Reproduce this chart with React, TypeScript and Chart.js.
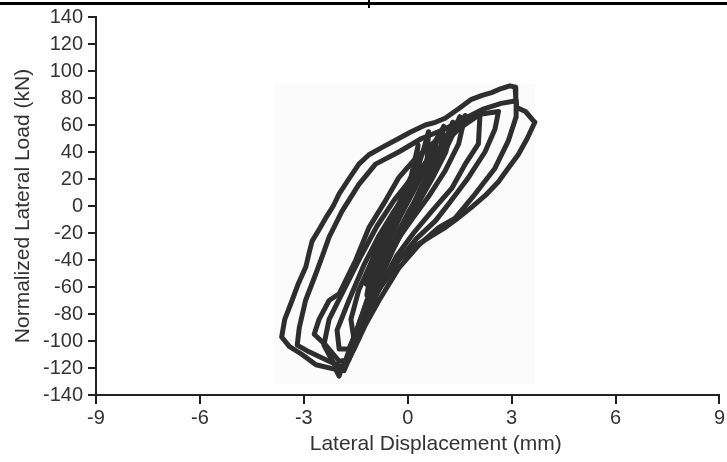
import React, { useEffect, useRef } from 'react';
import { Chart, registerables } from 'chart.js';

Chart.register(...registerables);

// Axis settings
const xRange = [-9, 9];
const xStep = 3;
const yRange = [-140, 140];
const yStep = 20;

const xTitle = 'Lateral Displacement (mm)';
const yTitle = 'Normalized Lateral Load (kN)';

// Hysteresis cycles [displacement mm, load kN]
const loopA: number[][] = [
  [3.67, 62], [3.45, 50], [3.19, 38], [2.9, 28], [2.62, 18], [2.25, 8], [1.84, -1], [1.45, -9],
  [1.08, -16], [0.7, -22], [0.32, -28], [0.0, -34], [-0.26, -40], [-0.45, -48], [-0.64, -55],
  [-0.95, -65], [-1.22, -75], [-1.38, -85], [-1.5, -94], [-1.65, -104], [-1.79, -114], [-1.92, -121],
  [-1.98, -126], [-2.08, -121], [-2.65, -117.6], [-3.05, -110], [-3.42, -104], [-3.64, -97],
  [-3.55, -84], [-3.34, -70], [-3.15, -57], [-2.94, -45], [-2.85, -35], [-2.76, -26], [-2.55, -17],
  [-2.37, -9], [-2.15, 0], [-1.98, 9], [-1.7, 20], [-1.41, 31], [-1.12, 38], [-0.7, 44], [-0.26, 50],
  [0.1, 55], [0.51, 60], [0.8, 62], [1.08, 65], [1.47, 72], [1.84, 79], [2.15, 82], [2.42, 84],
  [2.7, 87], [2.95, 89], [3.1, 88], [3.12, 80], [3.15, 73], [3.4, 70], [3.67, 62],
];

const loopB: number[][] = [
  [3.13, 66], [2.9, 48], [2.52, 28], [1.95, 9], [1.37, -9], [0.89, -16], [0.32, -29], [-0.26, -46],
  [-0.83, -70], [-1.22, -88], [-1.55, -106], [-1.84, -120], [-2.27, -115], [-2.85, -108],
  [-3.19, -103], [-3.13, -90], [-2.95, -70], [-2.65, -50], [-2.45, -36], [-2.27, -23], [-1.9, -4],
  [-1.41, 16], [-0.93, 31], [-0.26, 40], [0.4, 50], [1.08, 57], [1.66, 65], [2.2, 72], [2.7, 76],
  [3.13, 78], [3.13, 66],
];

const loopC: number[][] = [
  [2.62, 70], [2.52, 57], [2.23, 40], [1.75, 21], [1.18, 1.5], [0.8, -11], [0.26, -24], [-0.32, -42],
  [-0.83, -62], [-1.18, -81], [-1.47, -99], [-1.7, -114], [-1.98, -115], [-2.37, -103], [-2.7, -95],
  [-2.56, -84], [-2.27, -70], [-1.98, -65], [-1.5, -40], [-1.12, -16], [-0.64, 4], [-0.26, 21],
  [0.22, 35], [0.8, 48], [1.47, 57], [2.09, 68], [2.62, 70],
];

const loopD: number[][] = [
  [2.09, 69], [2.04, 46], [1.66, 31], [1.27, 13], [0.69, -4], [0.17, -20], [-0.32, -37], [-0.69, -55],
  [-1.06, -73], [-1.35, -92], [-1.64, -110], [-1.84, -122], [-2.13, -117], [-2.42, -103], [-2.27, -84],
  [-1.84, -62], [-1.35, -37], [-0.89, -15], [-0.4, 4], [0.03, 18], [0.55, 33], [1.12, 48], [1.66, 62],
  [2.09, 69],
];

const loopE: number[][] = [
  [1.66, 67], [1.47, 46], [1.08, 26], [0.6, 7], [0.09, -11], [-0.4, -29], [-0.83, -49], [-1.18, -70],
  [-1.47, -92], [-1.7, -106], [-1.98, -106], [-2.04, -92], [-1.7, -70], [-1.27, -44], [-0.83, -22],
  [-0.4, -4], [0.03, 12], [0.46, 27], [0.89, 40], [1.32, 55], [1.66, 67],
];

const loopF: number[][] = [
  [1.04, 59], [0.89, 33], [0.46, 15], [0.03, -4], [-0.32, -22], [-0.69, -40], [-1.06, -62],
  [-1.35, -84], [-1.55, -99], [-1.64, -84], [-1.41, -62], [-1.06, -42], [-0.69, -24], [-0.32, -7],
  [0.09, 11], [0.46, 29], [0.8, 48], [1.04, 59],
];

const loopG: number[][] = [
  [0.6, 55], [0.55, 29], [0.17, 11], [-0.2, -7], [-0.55, -26], [-0.89, -46], [-1.18, -66],
  [-1.06, -48], [-0.72, -29], [-0.37, -12], [-0.03, 5], [0.26, 26], [0.46, 42], [0.6, 55],
];

const loopH: number[][] = [
  [1.3, 62], [1.1, 40], [0.7, 20], [0.3, 2], [-0.1, -16], [-0.45, -34], [-0.8, -54], [-1.1, -74],
  [-0.95, -56], [-0.6, -36], [-0.25, -18], [0.15, 0], [0.55, 20], [0.95, 40], [1.3, 62],
];

const loopI: number[][] = [
  [0.85, 50], [0.7, 30], [0.35, 12], [0.0, -8], [-0.4, -30], [-0.2, -20], [0.15, -2], [0.5, 18],
  [0.85, 50],
];

const loopJ: number[][] = [
  [1.5, 66], [1.25, 50], [0.95, 34], [0.55, 16], [0.15, -2], [-0.2, -20], [0.1, -6], [0.45, 10],
  [0.8, 28], [1.15, 46], [1.5, 66],
];

const loopK: number[][] = [
  [0.3, 45], [0.2, 25], [-0.1, 8], [-0.5, -14], [-0.85, -36], [-1.2, -58], [-1.0, -38], [-0.65, -18],
  [-0.25, 2], [0.1, 22], [0.3, 45],
];

const loops = [loopA, loopB, loopC, loopD, loopE, loopF, loopG, loopH, loopI, loopJ, loopK];

// faint scanned-figure background box (data units)
const boxX = [-3.85, 3.68];
const boxY = [-132, 90];

const FONT = '"Liberation Sans", Arial, Helvetica, sans-serif';
const INK = '#2e2e2e';
const TEXT = '#333333';

const decorPlugin = {
  id: 'decor',
  beforeDatasetsDraw(chart: any) {
    const { ctx, scales } = chart;
    const x0 = scales.x.getPixelForValue(boxX[0]);
    const x1 = scales.x.getPixelForValue(boxX[1]);
    const y0 = scales.y.getPixelForValue(boxY[1]);
    const y1 = scales.y.getPixelForValue(boxY[0]);
    ctx.save();
    ctx.fillStyle = '#fbfbfb';
    ctx.fillRect(x0, y0, x1 - x0, y1 - y0);
    ctx.restore();
  },
  afterDraw(chart: any) {
    const { ctx, chartArea, width } = chart;
    ctx.save();
    // top rule left over from the source page
    ctx.fillStyle = '#000';
    ctx.fillRect(0, 2, width, 3);
    ctx.fillRect(368, 0, 2, 8);
    // x axis title
    ctx.fillStyle = TEXT;
    ctx.font = `21px ${FONT}`;
    ctx.textAlign = 'center';
    ctx.textBaseline = 'middle';
    const cx = chartArea.left + (chartArea.right - chartArea.left) * 0.545;
    ctx.fillText(xTitle, cx, 444);
    ctx.restore();
  },
};

export default function App() {
  const ref = useRef<HTMLCanvasElement | null>(null);

  useEffect(() => {
    if (!ref.current) return;
    const chart = new Chart(ref.current, {
      type: 'scatter',
      data: {
        datasets: loops.map((lp, i) => ({
          label: `cycle ${i + 1}`,
          data: lp.map(([x, y]) => ({ x, y })),
          showLine: true,
          borderColor: INK,
          backgroundColor: INK,
          borderWidth: 5,
          pointRadius: 0,
          tension: 0,
          borderJoinStyle: 'round' as const,
          borderCapStyle: 'round' as const,
        })),
      },
      options: {
        responsive: false,
        animation: false,
        layout: { padding: { left: 0, top: 14, right: 5, bottom: 0 } },
        plugins: {
          legend: { display: false },
          tooltip: { enabled: false },
        },
        scales: {
          x: {
            type: 'linear',
            min: xRange[0],
            max: xRange[1],
            ticks: { stepSize: xStep, color: TEXT, font: { family: FONT, size: 20 }, padding: 2 },
            grid: { drawOnChartArea: false, drawTicks: true, tickLength: 9, color: '#222', lineWidth: 2 },
            border: { display: true, color: '#222', width: 2 },
            title: { display: false },
            afterFit: (s: any) => { s.height = 67; },
          },
          y: {
            type: 'linear',
            min: yRange[0],
            max: yRange[1],
            ticks: { stepSize: yStep, color: TEXT, font: { family: FONT, size: 20 }, padding: 5 },
            grid: { drawOnChartArea: false, drawTicks: true, tickLength: 8, color: '#222', lineWidth: 2 },
            border: { display: true, color: '#222', width: 2 },
            title: {
              display: true,
              text: yTitle,
              color: TEXT,
              font: { family: FONT, size: 21 },
              padding: { top: 11, bottom: 0 },
            },
            afterFit: (s: any) => { s.width = 96; },
          },
        },
      },
      plugins: [decorPlugin],
    });
    return () => chart.destroy();
  }, []);

  return (
    <div style={{ position: 'fixed', left: 0, top: 0, width: 727, height: 462, background: '#fff' }}>
      <canvas ref={ref} width={727} height={462} style={{ width: 727, height: 462, display: 'block' }} />
    </div>
  );
}
